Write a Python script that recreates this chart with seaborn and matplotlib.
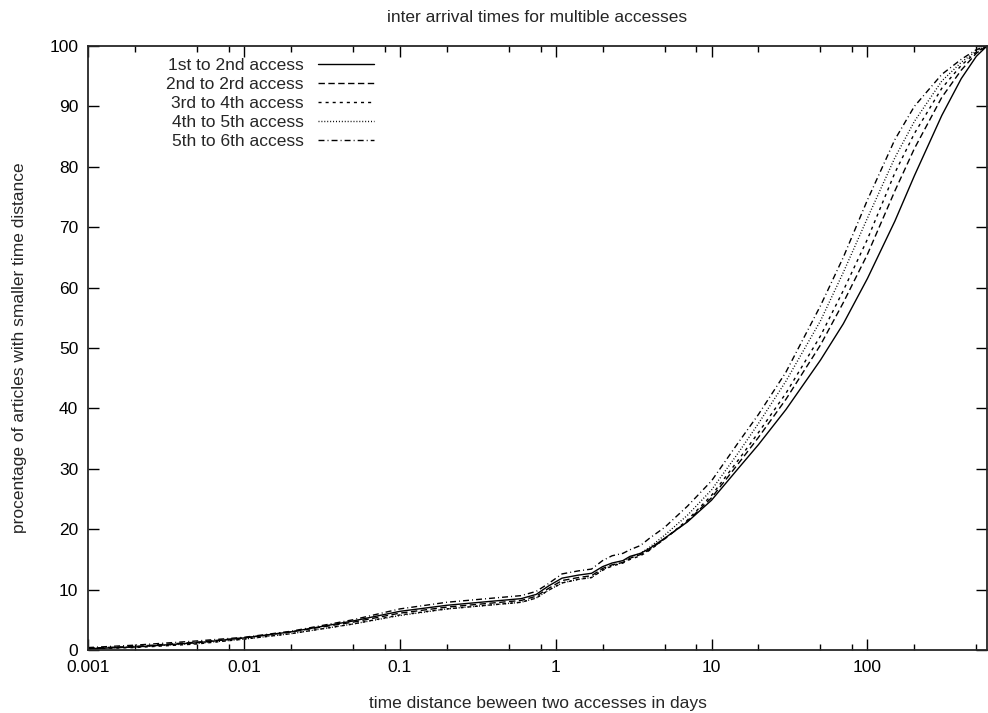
import matplotlib
matplotlib.use("Agg")
import matplotlib.pyplot as plt
import matplotlib.ticker as mticker
import seaborn as sns

# --- data (days, cumulative %) ---
days = [0.001, 0.002, 0.005, 0.01, 0.02, 0.05, 0.1, 0.2, 0.4, 0.6, 0.75, 0.9,
        1.1, 1.4, 1.7, 2.0, 2.3, 2.7, 3.0, 3.5, 4.0, 5.0, 7.0, 10, 15, 20,
        30, 50, 70, 100, 150, 200, 300, 400, 500, 585]

acc_1_2 = [0.2, 0.5, 1.2, 2.0, 3.0, 4.8, 6.4, 7.4, 8.1, 8.5, 9.2, 10.6,
           11.9, 12.4, 12.7, 13.8, 14.4, 14.8, 15.5, 16.0, 16.8, 18.5, 21.2, 24.8, 30.2, 34.0,
           39.8, 48.0, 54.0, 61.5, 71.0, 78.5, 88.5, 94.6, 98.3, 100]
acc_2_3 = [0.3, 0.6, 1.3, 2.0, 3.0, 4.6, 6.1, 7.1, 7.8, 8.2, 8.9, 10.2,
           11.5, 12.0, 12.3, 13.5, 14.1, 14.5, 15.2, 15.8, 16.6, 18.4, 21.3, 25.2, 31.0, 35.2,
           41.5, 50.5, 57.5, 65.5, 76.0, 83.0, 91.5, 96.0, 98.8, 100]
acc_3_4 = [0.2, 0.4, 1.0, 1.8, 2.7, 4.3, 5.8, 6.8, 7.5, 7.9, 8.6, 9.9,
           11.1, 11.7, 12.0, 13.2, 13.9, 14.4, 15.0, 15.6, 16.5, 18.4, 21.5, 25.6, 31.6, 36.0,
           42.5, 52.0, 59.5, 68.0, 79.0, 85.5, 93.0, 96.8, 99.0, 100]
acc_4_5 = [0.3, 0.5, 1.1, 1.8, 2.7, 4.3, 5.7, 6.8, 7.5, 7.9, 8.6, 9.9,
           11.1, 11.7, 12.0, 13.3, 14.0, 14.5, 15.3, 16.0, 17.0, 19.0, 22.3, 26.5, 32.8, 37.5,
           44.5, 54.5, 62.5, 71.5, 81.5, 87.5, 94.2, 97.3, 99.2, 100]
acc_5_6 = [0.4, 0.8, 1.5, 2.1, 3.1, 5.0, 6.8, 7.9, 8.6, 9.0, 9.7, 11.0,
           12.6, 13.1, 13.4, 14.8, 15.6, 16.0, 16.6, 17.3, 18.5, 20.3, 23.8, 28.0, 34.5, 39.0,
           46.0, 57.0, 65.0, 74.5, 84.5, 90.0, 95.3, 97.8, 99.4, 100]

labels = ["1st to 2nd access", "2nd to 2rd access", "3rd to 4th access",
          "4th to 5th access", "5th to 6th access"]
series = [acc_1_2, acc_2_3, acc_3_4, acc_4_5, acc_5_6]
styles = ["-", (0, (4.6, 2.5)), (0, (2.2, 2.9)), (0, (0.7, 1.4)), (0, (4.3, 2.2, 0.7, 2.2))]

sns.set_style("ticks")
plt.rcParams['font.family'] = ['Liberation Sans', 'DejaVu Sans']
plt.rcParams['font.size'] = 12.5

fig = plt.figure(figsize=(9.88, 7.13), dpi=100)
ax = fig.add_axes([88 / 988, 1 - 650 / 713, 899 / 988, 604 / 713])

for lab, vals, ls in zip(labels, series, styles):
    sns.lineplot(x=days, y=vals, ax=ax, color='black', linestyle=ls, lw=1.0, label=lab)

ax.set_xscale('log')
ax.set_xlim(0.001, 585)
ax.set_ylim(0, 100)
ax.set_yticks(range(0, 101, 10))
ax.xaxis.set_major_locator(mticker.LogLocator(base=10))
ax.xaxis.set_minor_locator(mticker.LogLocator(base=10, subs=[2, 5, 8]))
ax.xaxis.set_major_formatter(mticker.FuncFormatter(lambda v, p: f'{v:g}'))
ax.xaxis.set_minor_formatter(mticker.NullFormatter())
ax.tick_params(which='both', direction='in', top=True, right=True, width=1.0, colors='black')
ax.tick_params(which='major', length=8, pad=7, labelsize=12.5)
ax.tick_params(which='minor', length=4)
for s in ax.spines.values():
    s.set_linewidth(1.3)
    s.set_visible(True)

ax.set_xlabel('time distance beween two accesses in days', fontsize=12.5, labelpad=15)
ax.set_ylabel('procentage of articles with smaller time distance', fontsize=12.5, labelpad=16)
ax.set_title('inter arrival times for multible accesses', fontsize=12.5, pad=17)

ax.legend(loc='upper right', bbox_to_anchor=(0.318, 0.980), frameon=False, markerfirst=False,
          handlelength=3.2, handletextpad=0.85, labelspacing=0.22, borderpad=0, borderaxespad=0,
          fontsize=12.5)

fig.savefig('out.png', dpi=100)
